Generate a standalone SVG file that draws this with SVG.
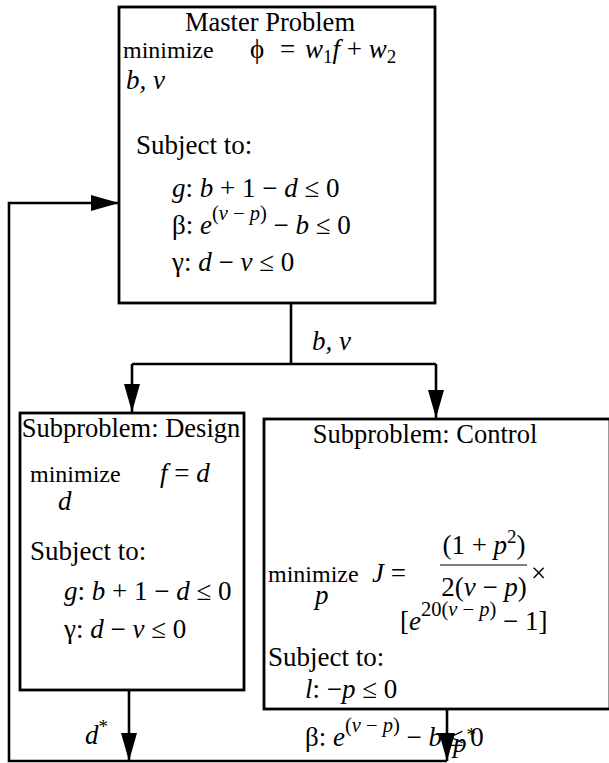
<svg xmlns="http://www.w3.org/2000/svg" width="609" height="763" viewBox="0 0 609 763">
<defs>
<style>
text{font-family:"Liberation Serif","Times New Roman",serif;font-size:27px;fill:#000}
.t{font-size:26.5px}
.i{font-style:italic}
.n{font-style:normal}
.m{font-size:24px}
.s{font-size:19px}
.sp{font-size:20.5px}
.box{fill:#fff;stroke:#000;stroke-width:2.8}
.ln{fill:none;stroke:#000;stroke-width:2.6}
</style>
<marker id="ah" viewBox="0 0 28 16" refX="28" refY="8" markerWidth="28" markerHeight="16" markerUnits="userSpaceOnUse" orient="auto">
<path d="M0,0 L28,8 L0,16 Z" fill="#000"/>
</marker>
</defs>
<g id="connectors">
<path class="ln" d="M291,303 V364"/>
<path class="ln" d="M132,364 H436"/>
<path class="ln" d="M132,364 V412" marker-end="url(#ah)"/>
<path class="ln" d="M436,364 V418" marker-end="url(#ah)"/>
<path class="ln" d="M129,690 V761" marker-end="url(#ah)"/>
<path class="ln" d="M447,709 V761" marker-end="url(#ah)"/>
<path class="ln" d="M447,761 H9 V203 H119" marker-end="url(#ah)"/>
<text x="312" y="350" class="i">b, v</text>
<text x="85" y="744" class="i">d<tspan class="s n" dy="-11">*</tspan></text>
</g>
<g id="master">
<rect class="box" x="119" y="7" width="316" height="296"/>
<text x="270" y="31" text-anchor="middle" class="t">Master Problem</text>
<text x="123" y="58" class="m">minimize</text>
<text x="250" y="58">ϕ</text>
<text x="280" y="58">=</text>
<text x="305" y="58" class="i">w<tspan class="s n" dy="5">1</tspan><tspan dy="-5">f</tspan><tspan class="n"> + </tspan>w<tspan class="s n" dy="5">2</tspan></text>
<text x="126" y="89" class="i">b, v</text>
<text x="136" y="154">Subject to:</text>
<text x="172" y="197"><tspan class="i">g</tspan>: <tspan class="i">b</tspan> + 1 − <tspan class="i">d</tspan> ≤ 0</text>
<text x="172" y="234">β: <tspan class="i">e</tspan><tspan class="sp" dy="-14">(<tspan class="i">v</tspan> − <tspan class="i">p</tspan>)</tspan><tspan dy="14"> − </tspan><tspan class="i">b</tspan> ≤ 0</text>
<text x="172" y="271">γ: <tspan class="i">d</tspan> − <tspan class="i">v</tspan> ≤ 0</text>
</g>
<g id="design">
<rect class="box" x="20" y="413" width="224" height="277"/>
<text x="131" y="437" text-anchor="middle" class="t">Subproblem: Design</text>
<text x="30" y="482" class="m">minimize</text>
<text x="160" y="482"><tspan class="i">f</tspan> = <tspan class="i">d</tspan></text>
<text x="58" y="510" class="i">d</text>
<text x="30" y="560">Subject to:</text>
<text x="64" y="600"><tspan class="i">g</tspan>: <tspan class="i">b</tspan> + 1 − <tspan class="i">d</tspan> ≤ 0</text>
<text x="64" y="638">γ: <tspan class="i">d</tspan> − <tspan class="i">v</tspan> ≤ 0</text>
</g>
<g id="control">
<rect class="box" x="264" y="419" width="346" height="290"/>
<text x="425" y="443" text-anchor="middle" class="t">Subproblem: Control</text>
<text x="268" y="582" class="m">minimize</text>
<text x="315" y="604" class="i">p</text>
<text x="372" y="582"><tspan class="i">J</tspan> =</text>
<text x="484" y="554" text-anchor="middle">(1 + <tspan class="i">p</tspan><tspan class="s" dy="-11">2</tspan><tspan dy="11">)</tspan></text>
<path d="M440,565 H527" stroke="#000" stroke-width="1.2"/>
<text x="484" y="596" text-anchor="middle">2(<tspan class="i">v</tspan> − <tspan class="i">p</tspan>)</text>
<text x="531" y="582">×</text>
<text x="400" y="630">[<tspan class="i">e</tspan><tspan class="sp" dy="-14">20(<tspan class="i">v</tspan> − <tspan class="i">p</tspan>)</tspan><tspan dy="14"> − 1]</tspan></text>
<text x="268" y="666">Subject to:</text>
<text x="305" y="698"><tspan class="i">l</tspan>: −<tspan class="i">p</tspan> ≤ 0</text>
<text x="305" y="746">β: <tspan class="i">e</tspan><tspan class="sp" dy="-14">(<tspan class="i">v</tspan> − <tspan class="i">p</tspan>)</tspan><tspan dy="14"> − </tspan><tspan class="i">b</tspan> ≤ 0</text>
<text x="453" y="752" class="i">p<tspan class="s n" dy="-11">*</tspan></text>
</g>
</svg>
